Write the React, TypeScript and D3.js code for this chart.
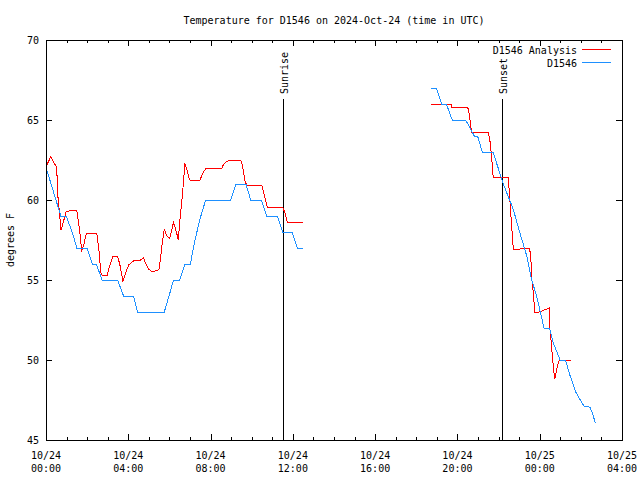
import React from "react";
import * as d3 from "d3";

// hours since 2024-10-24 00:00 UTC ; NaN marks a gap
const analysisHours = [
  0.01, 0.23, 0.4, 0.5, 0.53, 0.59, 0.66, 0.72, 0.79, 0.98, 1.5, 1.57, 1.66, 1.73, 1.82, 1.96, 2.47, 2.57, 2.67, 2.73,
  2.96, 3.06, 3.25, 3.48, 3.61, 3.74, 3.87, 4.03, 4.26, 4.55, 4.74, 4.84, 4.97, 5.17, 5.49, 5.56, 5.65, 5.75, 5.88,
  6.01, 6.2, 6.34, 6.43, 6.5, 6.63, 6.69, 6.75, 6.85, 6.98, 7.14, 7.47, 7.63, 7.76, 8.53, 8.62, 8.78, 8.94, 9.46, 9.56,
  9.66, 9.76, 10.5, 10.63, 10.76, 11.51, 11.61, 11.74, 12.5,
  NaN,
  18.72, 19.7, 19.72, 20.5, 20.57, 20.69, 21.5, 21.58, 21.66, 21.74, 22.47, 22.55, 22.65, 22.72, 23.01, 23.1, 23.49,
  23.56, 23.62, 23.69, 23.76, 23.95, 24.18, 24.47, 24.5, 24.56, 24.63, 24.73, 24.79, 24.86, 24.95, 25.51,
];
const analysisTemps = [
  62.1, 62.7, 62.3, 62.1, 61.7, 60.0, 59.2, 58.1, 58.35, 59.3, 59.35, 58.7, 57.8, 56.85, 57.1, 57.9, 57.9, 56.9, 55.45,
  55.3, 55.25, 55.75, 56.5, 56.5, 55.85, 54.9, 55.45, 55.95, 56.2, 56.2, 56.4, 56.05, 55.7, 55.5, 55.65, 56.25, 57.3,
  58.15, 57.75, 57.6, 58.6, 58.0, 57.5, 58.65, 60.3, 61.25, 62.3, 61.9, 61.25, 61.2, 61.2, 61.7, 61.95, 61.95, 62.2,
  62.4, 62.5, 62.5, 62.1, 61.25, 60.9, 60.9, 60.2, 59.55, 59.55, 59.2, 58.6, 58.6,
  NaN,
  65.94, 65.94, 65.8, 65.8, 65.4, 64.2, 64.2, 63.7, 62.7, 61.4, 61.4, 60.0, 58.1, 56.9, 56.9, 57.0, 57.0, 56.6, 55.0,
  54.2, 52.95, 53.0, 53.1, 53.25, 51.9, 51.1, 50.0, 48.8, 49.2, 49.6, 50.0, 50.0,
];

const obsHours = [
  0.01, 0.72, 0.98, 1.27, 1.5, 1.99, 2.25, 2.44, 2.73, 3.48, 3.77, 4.26, 4.45, 5.75, 5.98, 6.2, 6.5, 6.75, 7.02, 7.21,
  7.47, 7.76, 8.98, 9.24, 9.72, 9.95, 10.47, 10.73, 11.25, 11.51, 11.96, 12.22, 12.5,
  NaN,
  18.71, 18.97, 19.23, 19.46, 19.75, 20.4, 20.82, 20.98, 21.21, 21.73, 22.23, 22.72, 23.0, 23.37, 23.61, 23.85, 24.21,
  24.47, 24.66, 24.99, 25.25, 25.48, 25.77, 26.16, 26.45, 26.58, 26.71,
];
const obsTemps = [
  62, 59, 59, 58, 57, 57, 56, 56, 55, 55, 54, 54, 53, 53, 54, 55, 55, 56, 56, 57.3, 58.75, 60, 60, 61, 61, 60, 60, 59,
  59, 58, 58, 57, 57,
  NaN,
  67, 67, 66, 66, 65, 65, 64, 64, 63, 63, 61.0, 59.4, 58.1, 56.5, 55.0, 54.0, 52, 52, 51.07, 50, 50, 49, 47.95, 47.1,
  47.05, 46.6, 46.05,
];

const sunEvents = [
  { label: "Sunrise", hour: 11.52 },
  { label: "Sunset", hour: 22.17 },
];

const xMajorTicks = [0, 4, 8, 12, 16, 20, 24, 28];
const xTickLabels = [
  ["10/24", "00:00"],
  ["10/24", "04:00"],
  ["10/24", "08:00"],
  ["10/24", "12:00"],
  ["10/24", "16:00"],
  ["10/24", "20:00"],
  ["10/25", "00:00"],
  ["10/25", "04:00"],
];
const yTicks = [45, 50, 55, 60, 65, 70];

const titleText = "Temperature for D1546 on 2024-Oct-24 (time in UTC)";
const seriesNames = ["D1546 Analysis", "D1546"];
const seriesColors = ["#ff0000", "#1e90ff"];

const FONT = "'DejaVu Sans Mono', monospace";

export default function App() {
  const L = 46, R = 622, T = 40, B = 440;
  const x = d3.scaleLinear().domain([0, 28]).range([L, R]);
  const y = d3.scaleLinear().domain([45, 70]).range([B, T]);

  const mk = (hs: number[], ts: number[]) => {
    const pts = hs.map((h, i) => [h, ts[i]] as [number, number]);
    return d3
      .line<[number, number]>()
      .defined((d) => !isNaN(d[0]) && !isNaN(d[1]))
      .x((d) => x(d[0]))
      .y((d) => y(d[1]))(pts) as string;
  };

  const minorTicks = d3.range(0, 29).filter((h) => h % 4 !== 0);
  const p = (v: number) => Math.round(v) + 0.5;

  return (
    <div style={{ position: "absolute", left: 0, top: 0 }}>
      <svg width={640} height={480} style={{ display: "block", background: "#fff" }} fontFamily={FONT} fontSize={10}>
        <rect x={0} y={0} width={640} height={480} fill="#fff" />
        <text x={(L + R) / 2} y={23.5} textAnchor="middle">{titleText}</text>

        {/* ticks */}
        <g stroke="#000" strokeWidth={1} shapeRendering="crispEdges">
          {xMajorTicks.map((h) => (
            <g key={"M" + h}>
              <line x1={p(x(h))} x2={p(x(h))} y1={B} y2={B - 6} />
              <line x1={p(x(h))} x2={p(x(h))} y1={T} y2={T + 6} />
            </g>
          ))}
          {minorTicks.map((h) => (
            <g key={"m" + h}>
              <line x1={p(x(h))} x2={p(x(h))} y1={B} y2={B - 3} />
              <line x1={p(x(h))} x2={p(x(h))} y1={T} y2={T + 3} />
            </g>
          ))}
          {yTicks.map((v) => (
            <g key={"y" + v}>
              <line x1={L} x2={L + 6} y1={p(y(v))} y2={p(y(v))} />
              <line x1={R} x2={R - 6} y1={p(y(v))} y2={p(y(v))} />
            </g>
          ))}
        </g>

        {/* tick labels */}
        {xMajorTicks.map((h, i) => (
          <g key={"xl" + h}>
            <text x={x(h)} y={459} textAnchor="middle">{xTickLabels[i][0]}</text>
            <text x={x(h)} y={472} textAnchor="middle">{xTickLabels[i][1]}</text>
          </g>
        ))}
        {yTicks.map((v) => (
          <text key={"yl" + v} x={39} y={y(v) + 3.5} textAnchor="end">{v}</text>
        ))}
        <text transform={`translate(14,${(T + B) / 2}) rotate(-90)`} textAnchor="middle">degrees F</text>

        {/* sunrise / sunset */}
        {sunEvents.map((e) => (
          <g key={e.label}>
            <line x1={p(x(e.hour))} x2={p(x(e.hour))} y1={99} y2={B} stroke="#000" shapeRendering="crispEdges" />
            <text transform={`translate(${p(x(e.hour)) + 4},94) rotate(-90)`} textAnchor="start">{e.label}</text>
          </g>
        ))}

        {/* data */}
        <path d={mk(analysisHours, analysisTemps)} fill="none" stroke={seriesColors[0]} strokeWidth={1} shapeRendering="crispEdges" />
        <path d={mk(obsHours, obsTemps)} fill="none" stroke={seriesColors[1]} strokeWidth={1} shapeRendering="crispEdges" />

        {/* legend */}
        {seriesNames.map((n, i) => (
          <g key={n}>
            <text x={577} y={53.5 + i * 13} textAnchor="end">{n}</text>
            <line x1={582} x2={611} y1={49.5 + i * 13} y2={49.5 + i * 13} stroke={seriesColors[i]} shapeRendering="crispEdges" />
          </g>
        ))}

        {/* border */}
        <rect x={L + 0.5} y={T + 0.5} width={R - L} height={B - T} fill="none" stroke="#000" shapeRendering="crispEdges" />
      </svg>
    </div>
  );
}
